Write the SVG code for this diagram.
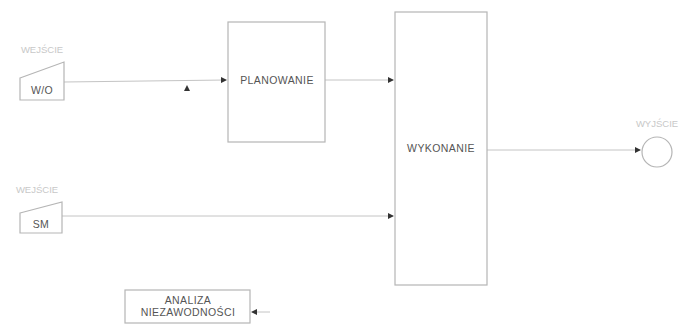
<svg xmlns="http://www.w3.org/2000/svg" width="687" height="334" viewBox="0 0 687 334">
<style>
.box{fill:#fff;stroke:#b5b5b5;stroke-width:1.2}
.ln{fill:none;stroke:#c4c4c4;stroke-width:1}
.t{font-family:"Liberation Sans",Arial,sans-serif;font-size:10.5px;fill:#555;text-anchor:middle;letter-spacing:0.4px}
.lbl{font-family:"Liberation Sans",Arial,sans-serif;font-size:9.5px;fill:#c8c8c8;text-anchor:middle}
.ah{fill:#333}
</style>
<defs>
<marker id="arr" markerWidth="6" markerHeight="6" refX="5" refY="3" orient="auto" markerUnits="userSpaceOnUse">
<path d="M0,0 L6,3 L0,6 Z" class="ah"/>
</marker>
</defs>
<rect width="687" height="334" fill="#fff"/>
<g id="connectors">
<path class="ln" d="M64,82 L226,80" marker-end="url(#arr)"/>
<path d="M184,91 L187,85 L190,91 Z" class="ah"/>
<path class="ln" d="M325,80 L393,80" marker-end="url(#arr)"/>
<path class="ln" d="M62,216 L393,216" marker-end="url(#arr)"/>
<path class="ln" d="M487,150 L640,150" marker-end="url(#arr)"/>
<path class="ln" d="M270,312 L252,312" marker-end="url(#arr)"/>
</g>
<g id="wejscie1">
<text class="lbl" x="42" y="53">WEJŚCIE</text>
<path class="box" d="M20,78 L64,62 L64,100 L20,100 Z"/>
<text class="t" x="42" y="94">W/O</text>
</g>
<g id="wejscie2">
<text class="lbl" x="37" y="193">WEJŚCIE</text>
<path class="box" d="M20,213 L62,202 L62,233 L20,233 Z"/>
<text class="t" x="41" y="228">SM</text>
</g>
<g id="planowanie">
<rect class="box" x="228" y="22" width="97" height="120"/>
<text class="t" x="277" y="84">PLANOWANIE</text>
</g>
<g id="wykonanie">
<rect class="box" x="395" y="12" width="92" height="273"/>
<text class="t" x="441" y="152">WYKONANIE</text>
</g>
<g id="wyjscie">
<text class="lbl" x="657" y="127">WYJŚCIE</text>
<circle class="box" cx="657" cy="152" r="15"/>
</g>
<g id="analiza">
<rect class="box" x="125" y="290" width="125" height="33"/>
<text class="t" x="188" y="304">ANALIZA</text>
<text class="t" x="188" y="316">NIEZAWODNOŚCI</text>
</g>
</svg>
